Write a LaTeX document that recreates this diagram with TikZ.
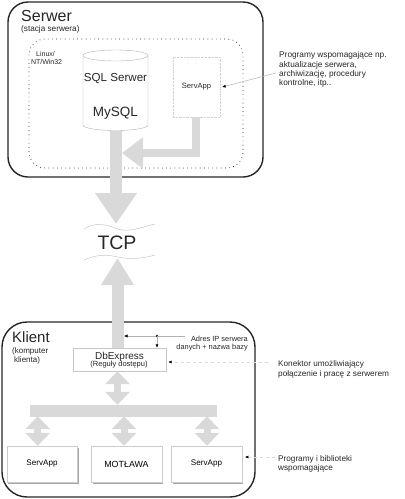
\documentclass[tikz,border=0pt]{standalone}
\usepackage{fontspec}
\setmainfont{Liberation Sans}
\usetikzlibrary{arrows.meta,shadows}
\definecolor{fatgray}{HTML}{D9D9D9}
\begin{document}
\begin{tikzpicture}[x=1pt,y=-1pt,
  frame/.style={draw=black!85, line width=1.4pt, rounded corners=#1},
  fat/.style={draw=fatgray, line width=#1, line join=miter},
  lab/.style={inner sep=0pt, anchor=base west, text=black!85},
  note/.style={inner sep=0pt, anchor=north west, align=left, text=black!85},
  pointer/.style={draw=gray!60, line width=0.5pt, -{Latex[length=3.5pt,width=3pt,color=black]}},
  faint/.style={draw=gray!30, line width=0.5pt, dashed, -{Latex[length=3.5pt,width=3pt,color=black]}},
  dbl/.style={{Triangle[width=24pt,length=13pt]}-{Triangle[width=24pt,length=13pt]}},
  appbox/.style={draw=gray!40, fill=white, minimum width=70.5pt, minimum height=36pt, inner sep=0pt,
    drop shadow={shadow xshift=1.5pt, shadow yshift=-1.5pt, fill=gray!70, opacity=1}},
]
\useasboundingbox (0,0) rectangle (405,499);

% ---------------- Server ----------------
\draw[frame=20] (8,2) rectangle (263,177);
\draw[line width=0.9pt, line cap=round, dash pattern=on 0pt off 4.2pt, rounded corners=16] (29,39) rectangle (243,168);
\node[lab, font=\fontsize{16}{16}\selectfont] (serwer) at (21,21) {Serwer};
\node[lab, font=\fontsize{8.2}{8.2}\selectfont] (stacja) at (21,31) {(stacja serwera)};
\node[lab, font=\fontsize{7}{7}\selectfont] (os1) at (36,56) {Linux/};
\node[lab, font=\fontsize{7}{7}\selectfont] (os2) at (30.8,64) {NT/Win32};

% cylinder
\draw[gray!60, fill=white] (83,55.5) -- (83,125) arc[start angle=180, end angle=0, x radius=32.5, y radius=5.5] -- (148,55.5);
\draw[gray!60] (115.5,55.5) ellipse[x radius=32.5, y radius=5.5];
\coordinate (dbbot) at (116,131);
\node[anchor=base, inner sep=0pt, text=black!85, font=\fontsize{11.6}{11.6}\selectfont] (sql) at (115.5,81) {SQL Serwer};
\node[anchor=base, inner sep=0pt, text=black!85, font=\fontsize{13.5}{13.5}\selectfont] (mysql) at (115.5,116) {MySQL};

% server app
\node[draw=gray!35, densely dotted, minimum width=47pt, minimum height=60pt, inner sep=0pt,
  text=black!85, font=\fontsize{7.6}{7.6}\selectfont] (sapp) at (196.5,87) {ServApp};

% main arrow down to TCP
\coordinate (tcpTop) at (116,224);
\draw[fat=12pt, -{Triangle[width=40pt,length=31pt]}] (dbbot) -- (tcpTop);
% elbow arrow from ServApp
\coordinate (elbowtip) at (122,153);
\draw[fat=8pt, -{Triangle[width=30pt,length=21pt]}] ([xshift=-1pt]sapp.south) |- (elbowtip);

% annotation server
\node[note, font=\fontsize{8.3}{9.2}\selectfont] (progsrv) at (279,51.6)
  {Programy wspomagające np.\\aktualizacje serwera,\\archiwizację, procedury\\kontrolne, itp..};
\coordinate (progsrvA) at (276,73);
\draw[pointer] (progsrvA) -- ([xshift=2pt]sapp.east);

% ---------------- TCP ----------------
\node[inner sep=0pt, text=black!85, font=\fontsize{19.5}{19.5}\selectfont] (tcp) at (117,243) {TCP};
\draw[gray!45, line width=0.5pt] (84,229) .. controls (95,222) and (105,224) .. (118,229) .. controls (130,233) and (145,226) .. (155,224);
\draw[gray!45, line width=0.5pt] (84,260) .. controls (95,255) and (105,254) .. (118,257) .. controls (130,260) and (145,258) .. (155,255);

% ---------------- Client ----------------
\draw[frame=25] (2,322) rectangle (255,497);
\node[lab, font=\fontsize{15}{15}\selectfont] (klient) at (12,342) {Klient};
\node[lab, font=\fontsize{8}{8}\selectfont] (komp1) at (12,353) {(komputer};
\node[lab, font=\fontsize{8}{8}\selectfont] (komp2) at (14,362.5) {klienta)};

% DbExpress
\node[draw=gray!45, fill=white, minimum width=93pt, minimum height=23pt, inner sep=0pt] (dbx) at (119.5,359.5) {};
\node[anchor=base, inner sep=0pt, text=black!85, font=\fontsize{10}{10}\selectfont] (dbxt) at (119.5,359) {DbExpress};
\node[anchor=base, inner sep=0pt, text=black!85, font=\fontsize{7.5}{7.5}\selectfont] (dbxr) at (119,366.5) {(Reguły dostępu)};

% up arrow to TCP
\coordinate (tcpBot) at (117.5,258);
\draw[fat=12pt, -{Triangle[width=31pt,length=27pt]}] ([xshift=-2pt]dbx.north) -- (tcpBot);

% IP pointer
\coordinate (ipA) at (185,336);
\coordinate (ipDot) at (157,336);
\coordinate (shaftR) at (124,336);
\draw[pointer] (ipA) -- (shaftR);
\fill[black!85] (ipDot) circle (1.3pt);
\draw[pointer] (ipDot) -- (ipDot |- dbx.north);
\node[anchor=base east, inner sep=0pt, text=black!85, font=\fontsize{7.4}{7.4}\selectfont] (ip1) at (248,341) {Adres IP serwera};
\node[anchor=base east, inner sep=0pt, text=black!85, font=\fontsize{7.4}{7.4}\selectfont] (ip2) at (248,349) {danych + nazwa bazy};

% Konektor annotation
\node[note, font=\fontsize{8.2}{10}\selectfont] (kon) at (278,360) {Konektor umożliwiający\\połączenie i pracę z serwerem};
\coordinate (konA) at (268,362);
\draw[faint] (konA) -- ([xshift=2pt]dbx.east |- konA);

% bar
\node[fill=fatgray, draw=gray!30, minimum width=186pt, minimum height=11pt, inner sep=0pt] (bar) at (123,410.5) {};
\draw[fat=7pt, dbl] ([xshift=-2pt]dbx.south) -- ([xshift=-2pt]dbx.south |- bar.north);

% bottom apps
\node[appbox, font=\fontsize{8.1}{8.1}\selectfont] (app1) at (42,464) {ServApp};
\node[appbox, font=\fontsize{8.9}{8.9}\selectfont] (app2) at (126.5,464) {MOTŁAWA};
\node[appbox, font=\fontsize{8.1}{8.1}\selectfont] (app3) at (206.5,464) {ServApp};
\coordinate (b1) at (37.7,416);
\coordinate (b2) at (124,416);
\coordinate (b3) at (207,416);
\draw[fat=7pt, dbl] (b1 |- bar.south) -- (b1 |- app1.north);
\draw[fat=7pt, dbl] (b2 |- bar.south) -- (b2 |- app2.north);
\draw[fat=7pt, dbl] (b3 |- bar.south) -- (b3 |- app3.north);

% Programy i biblioteki
\node[note, font=\fontsize{8.2}{9}\selectfont] (bib) at (278,455) {Programy i biblioteki\\wspomagające};
\coordinate (bibA) at (275,457);
\draw[faint] (bibA) -- ([xshift=3pt]app3.east |- bibA);
\end{tikzpicture}
\end{document}
